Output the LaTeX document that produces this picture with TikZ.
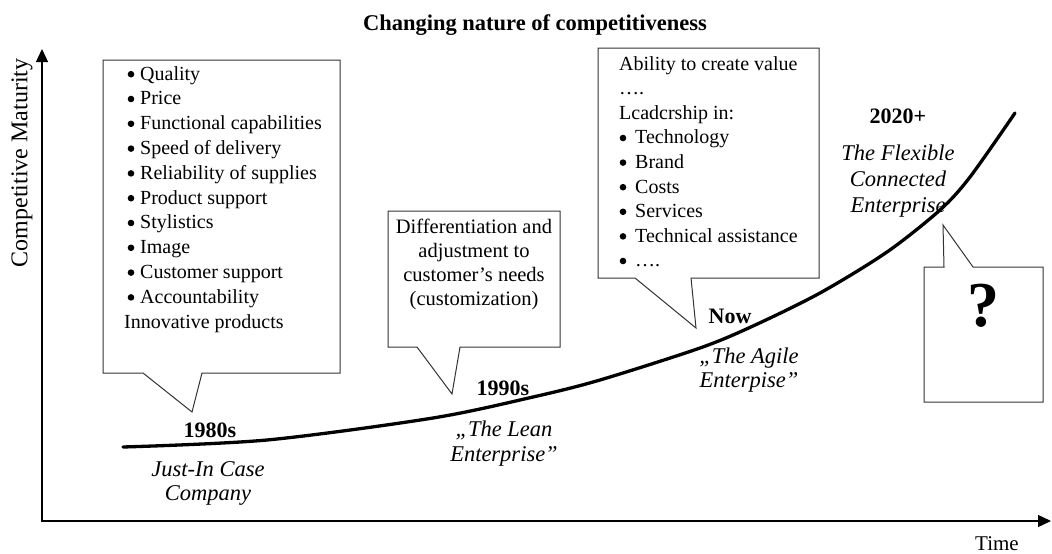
\documentclass[tikz,border=0pt]{standalone}
\usepackage{fontspec}
\setmainfont{Liberation Serif}
\usetikzlibrary{arrows.meta}
\begin{document}
\begin{tikzpicture}[x=1pt,y=-1pt,
  callout/.style={draw=black!80, line width=1pt, line join=miter, fill=white},
  axis/.style={line width=1.3pt, {Triangle[length=13pt,width=12pt]}-{Triangle[length=13pt,width=12pt]}},
  growth/.style={line width=3.3pt, line cap=round},
  dot/.style={fill=black},
  item/.style={font=\fontsize{20}{24}\selectfont, inner sep=0pt, anchor=base west},
  itemc/.style={font=\fontsize{20.5}{24}\selectfont, inner sep=0pt, anchor=base},
  era/.style={font=\bfseries\fontsize{22}{26}\selectfont, inner sep=0pt, anchor=base},
  stage/.style={font=\itshape\fontsize{22.5}{26}\selectfont, inner sep=0pt, anchor=base},
  axlabel/.style={font=\fontsize{21}{24}\selectfont, inner sep=0pt},
]
\useasboundingbox (0,0) rectangle (1052,554);

% title
\node[font=\bfseries\fontsize{22.5}{26}\selectfont, inner sep=0pt, anchor=base] (title) at (535,30) {Changing nature of competitiveness};

% axes
\coordinate (ytop) at (42,49);
\coordinate (origin) at (42,521);
\coordinate (xend) at (1051,521);
\draw[axis] (ytop) -- (origin) -- (xend);
\node[axlabel, font=\fontsize{24}{26}\selectfont, rotate=90] (ylab) at (22,163) {Competitive Maturity};
\node[axlabel, anchor=base] (xlab) at (997,550) {Time};

% callout boxes
\draw[callout] (103,60) -- (340,60) -- (340,373) -- (202,373) -- (192,412) -- (143,373) -- (103,373) -- cycle;
\draw[callout] (388,211) -- (560,211) -- (560,347) -- (460,347) -- (452,394) -- (417,347) -- (388,347) -- cycle;
\draw[callout] (598,48) -- (819,48) -- (819,278) -- (691,278) -- (696,328) -- (635,278) -- (598,278) -- cycle;
\draw[callout] (924,267) -- (944,267) -- (943,225) -- (973,267) -- (1043,267) -- (1043,402) -- (924,402) -- cycle;

% first box: bulleted list of factors
\foreach \t [count=\i from 0] in {Quality, Price, Functional capabilities, Speed of delivery,
    Reliability of supplies, Product support, Stylistics, Image, Customer support, Accountability}
{
  \node[item] (fa\i) at ({140},{80+24.8*\i}) {\t};
  \fill[dot] ({131},{80+24.8*\i-5.8}) circle[radius=3.3pt];
}
\node[item] (fa10) at (124,328) {Innovative products};

% second box
\node[itemc] (d1) at (474,233) {Differentiation and};
\node[itemc] (d2) at (474,257) {adjustment to};
\node[itemc] (d3) at (474,281) {customer’s needs};
\node[itemc] (d4) at (474,305) {(customization)};

% third box
\node[item] (v0) at (619,70) {Ability to create value};
\node[item] (v1) at ({619},{70+24.6}) {….};
\node[item] (v2) at ({619},{70+24.6*2}) {Lcadcrship in:};
\foreach \t [count=\i from 3] in {Technology, Brand, Costs, Services, Technical assistance, ….}
{
  \node[item] (v\i) at ({635},{70+24.6*\i}) {\t};
  \fill[dot] ({623},{70+24.6*\i-5.8}) circle[radius=3.3pt];
}

% question box
\node[font=\bfseries\fontsize{64}{70}\selectfont, inner sep=0pt] (q) at (983,306) {?};

% eras and stages
\node[era] (e80) at (210,437) {1980s};
\node[stage] (s80a) at (208,476) {Just-In Case};
\node[stage] (s80b) at (208,500) {Company};

\node[era] (e90) at (503,395) {1990s};
\node[stage] (s90a) at (504,436) {„The Lean};
\node[stage] (s90b) at (504,461) {Enterprise”};

\node[era] (enow) at (730,323) {Now};
\node[stage] (snowa) at (749,363) {„The Agile};
\node[stage] (snowb) at (749,387) {Enterpise”};

\node[era] (e20) at (898,123) {2020+};
\node[stage] (s20a) at (898,160) {The Flexible};
\node[stage] (s20b) at (898,186) {Connected};
\node[stage] (s20c) at (898,212) {Enterprise};

% growth curve
\draw[growth] plot[smooth, tension=0.5] coordinates {(123,447) (267,440) (433,418) (533,397) (600,380) (700,348) (753,326) (820,293) (887,252) (940,210) (970,177) (1015,113)};
\end{tikzpicture}
\end{document}
